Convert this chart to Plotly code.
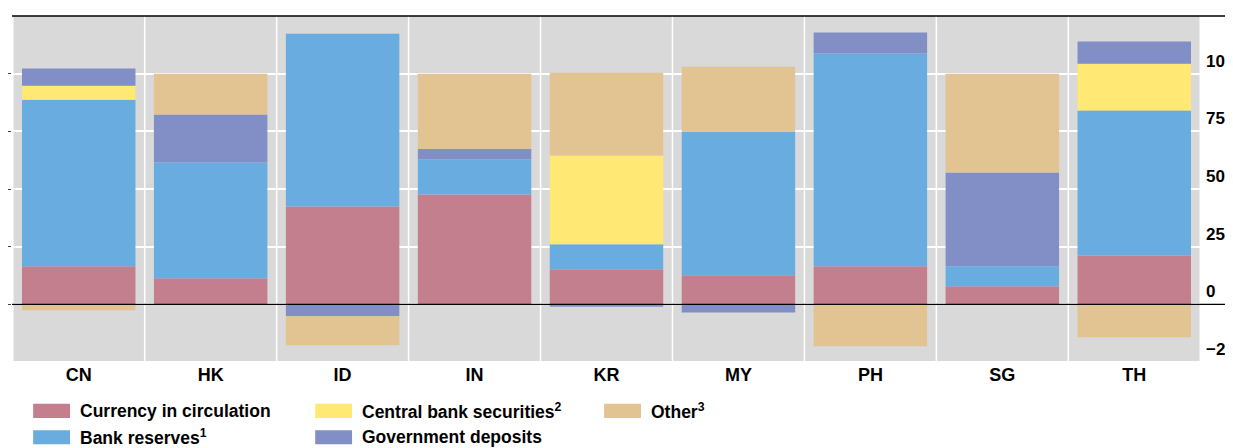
import plotly.graph_objects as go

countries = ["CN", "HK", "ID", "IN", "KR", "MY", "PH", "SG", "TH"]
currency = [16.5, 11.3, 42.4, 47.6, 15.2, 12.6, 16.5, 7.8, 21.2]
reserves = [72.2, 50.2, 74.9, 15.2, 10.8, 62.3, 92.2, 8.7, 62.8]
cb_secs = [6.1, 0, 0, 0, 38.5, 0, 0, 0, 20.3]
gov_dep = [7.4, 20.8, -5.2, 4.7, -1.0, -3.5, 9.1, 40.6, 9.6]
other = [-2.6, 17.7, -12.5, 32.5, 35.9, 28.1, -18.2, 42.9, -14.3]

series = [
    ("Currency in circulation", currency, "#C47F8E"),
    ("Bank reserves<sup>1</sup>", reserves, "#69ACE0"),
    ("Central bank securities<sup>2</sup>", cb_secs, "#FFE873"),
    ("Government deposits", gov_dep, "#818FC6"),
    ("Other<sup>3</sup>", other, "#E2C392"),
]
# legend slot (column, row) for each series
legend_pos = [(0, 0), (0, 1), (1, 0), (1, 1), (2, 0)]

fig = go.Figure()
for name, vals, col in series:
    fig.add_trace(go.Bar(x=countries, y=vals, name=name, marker_color=col,
                         marker_line_width=0, width=0.86, showlegend=False))
fig.add_trace(go.Scatter(x=[None], y=[None], yaxis="y2", showlegend=False))

# page body has an 8px margin, so the figure is 8px smaller
font = dict(family="Liberation Sans, Arial", size=17, color="black", weight="bold")
fig.update_layout(
    barmode="relative", width=1225, height=440,
    margin=dict(l=4, r=32, t=8, b=86),
    plot_bgcolor="#D9D9D9", paper_bgcolor="white", font=font,
    xaxis=dict(showgrid=False, tickfont=dict(size=18), ticks="", automargin=False),
    yaxis=dict(side="right", range=[-25, 125], tickvals=[-25, 0, 25, 50, 75, 100],
               gridcolor="white", gridwidth=1.5, zeroline=False, ticks="",
               automargin=False, ticklabelstandoff=4, ticklabelshift=-13),
    yaxis2=dict(overlaying="y", side="left", range=[-25, 125],
                tickvals=[0, 25, 50, 75, 100], showticklabels=False,
                ticks="outside", ticklen=3, showgrid=False, zeroline=False,
                automargin=False),
    bargap=0.14,
)

# vertical separators between categories
for i in range(len(countries) + 1):
    fig.add_shape(type="line", xref="x", yref="paper", x0=i - 0.5, x1=i - 0.5,
                  y0=0, y1=1, line=dict(color="white", width=1.5), layer="below")
fig.add_shape(type="line", xref="paper", yref="paper", x0=0, x1=1.04, y0=1, y1=1,
              line=dict(color="black", width=1.5))
fig.add_shape(type="line", xref="paper", yref="y", x0=0, x1=1.04, y0=0, y1=0,
              line=dict(color="black", width=1.2))
fig.add_shape(type="line", xref="paper", yref="paper", x0=0, x1=1, y0=0, y1=0,
              line=dict(color="white", width=2))

# legend drawn by hand: large swatches in three columns
col_x = [0.0178, 0.255, 0.498]
row_y = [-0.121, -0.197]
sw_w, sw_h = 0.031, 0.041
for (name, vals, col), (c, r) in zip(series, legend_pos):
    x0, y0 = col_x[c], row_y[r]
    fig.add_shape(type="rect", xref="paper", yref="paper", x0=x0, x1=x0 + sw_w,
                  y0=y0 - sw_h, y1=y0, fillcolor=col, line_width=0)
    fig.add_annotation(xref="paper", yref="paper", x=x0 + sw_w + 0.007,
                       y=y0 - sw_h / 2, text=name, showarrow=False,
                       xanchor="left", yanchor="middle", font=dict(size=17.5))

fig.write_html("out.html")
